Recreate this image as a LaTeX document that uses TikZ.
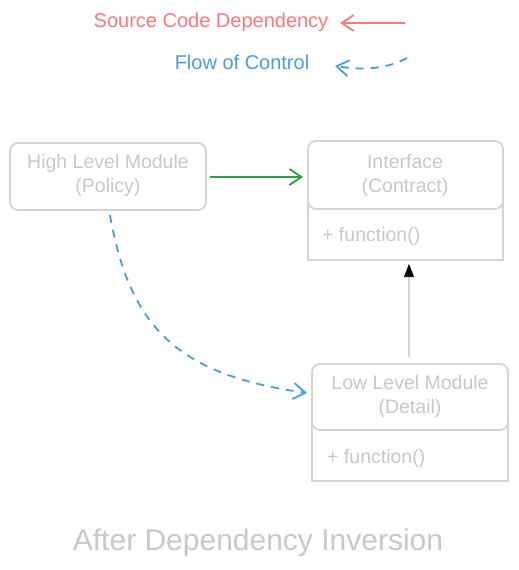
\documentclass[tikz,border=0pt]{standalone}
\usepackage{fontspec}
\setmainfont{Liberation Sans}
\usetikzlibrary{arrows.meta}
\definecolor{boxgray}{HTML}{D4D4D4}
\definecolor{txtgray}{HTML}{C8C8C8}
\definecolor{srcred}{HTML}{FF7878}
\definecolor{flowblue}{HTML}{4A9AE8}
\definecolor{depgreen}{HTML}{2F9E44}
\tikzset{
  box/.style={draw=boxgray, line width=1.8pt, rounded corners=8pt},
  plainbox/.style={draw=boxgray, line width=1.8pt},
  lbl/.style={text=txtgray, font=\fontsize{19.5}{24}\selectfont, align=center, inner sep=0pt},
  fn/.style={text=txtgray, font=\fontsize{19.5}{24}\selectfont, anchor=west, inner sep=0pt},
  openhead/.style={-{Straight Barb[length=12pt,width=16pt,line width=1.8pt]}},
  flow/.style={flowblue, line width=1.8pt, dashed, dash pattern=on 8pt off 7pt, openhead},
}
\begin{document}
\begin{tikzpicture}[x=1pt,y=-1pt]
\useasboundingbox (0,0) rectangle (519,570);
% legend
\node[text=srcred, font=\fontsize{20}{24}\selectfont, inner sep=0pt] (srclbl) at (211,22) {Source Code Dependency};
\coordinate (srcA) at (405,23);
\coordinate (srcB) at (340,23);
\draw[srcred, line width=1.8pt, openhead] (srcA) -- (srcB);
\node[text=flowblue, font=\fontsize{20}{24}\selectfont, inner sep=0pt] (flowlbl) at (242,62) {Flow of Control};
\coordinate (flA) at (407,58);
\coordinate (flB) at (335,66);
\draw[flow] (flA) .. controls (385,70) and (360,70) .. (flB);
% high level box
\draw[box] (10,143) rectangle (206,210);
\node[lbl] (high) at (108,175) {High Level Module\\(Policy)};
\coordinate (highE) at (210,177);
\coordinate (highS) at (110,215);
% interface box
\draw[plainbox] (308,200) -- (308,260) -- (503,260) -- (503,200);
\draw[box, fill=white] (308,141) rectangle (503,209);
\node[lbl] (iface) at (405,175) {Interface\\(Contract)};
\node[fn] (ifn) at (322,236) {+ function()};
\coordinate (ifaceW) at (303,177);
\coordinate (ifaceS) at (409,264);
% low level box
\draw[plainbox] (312,420) -- (312,481) -- (508,481) -- (508,420);
\draw[box, fill=white] (312,364) rectangle (508,430);
\node[lbl] (low) at (410,396) {Low Level Module\\(Detail)};
\node[fn] (lfn) at (327,458) {+ function()};
\coordinate (lowN) at (409,357);
\coordinate (lowW) at (307,393);
% connectors
\draw[depgreen, line width=2pt, openhead] (highE) -- (ifaceW);
\draw[boxgray, line width=2pt, -{Triangle[length=13pt,width=10pt,black,line width=0.6pt]}] (lowN) -- (ifaceS);
\draw[flow] (highS) .. controls (130,330) and (180,375) .. (lowW);
% caption
\node[text=txtgray, font=\fontsize{30}{36}\selectfont, inner sep=0pt] (cap) at (258,543) {After Dependency Inversion};
\end{tikzpicture}
\end{document}
